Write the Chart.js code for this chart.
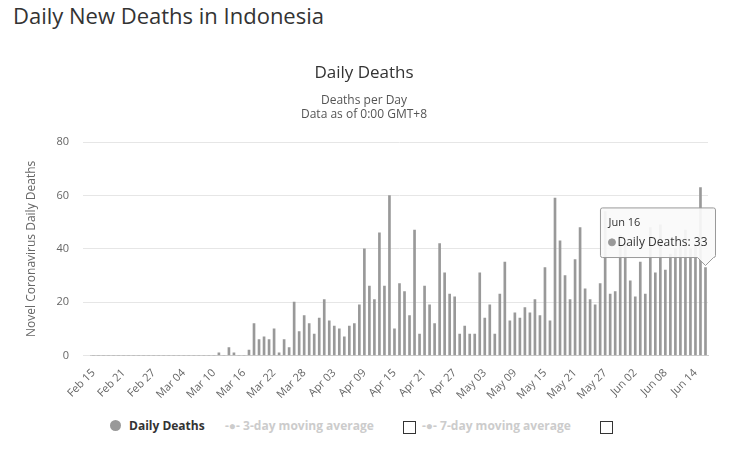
<!DOCTYPE html>
<html>
<head>
<meta charset="utf-8">
<script src="https://cdn.jsdelivr.net/npm/chart.js@4"></script>
<style>
  body { margin: 0; width: 734px; height: 449px; background: #fff; font-family: "Open Sans", sans-serif; overflow: hidden; }
  h1 { position: absolute; left: 13px; top: 0; margin: 0; font-weight: normal; font-size: 22px; color: #333; }
  #wrap { position: absolute; left: 0; top: 55px; width: 734px; height: 350px; }
  #legend { position: absolute; top: 417px; left: 110px; font-size: 12px; font-weight: bold; color: #333; }
  #legend span { position: absolute; white-space: nowrap; }
  .box { display: inline-block; width: 11px; height: 11px; border: 1px solid #333; }
</style>
</head>
<body>
<h1>Daily New Deaths in Indonesia</h1>
<div id="wrap"><canvas id="deathsChart"></canvas></div>
<div id="legend">
  <span style="left:0"><span style="position:relative;display:inline-block;width:11px;height:11px;border-radius:50%;background:#999;top:1px;margin-right:8px"></span>Daily Deaths</span>
  <span style="left:115px;color:#ccc">-●- 3-day moving average</span>
  <span style="left:293px;top:4px" class="box"></span>
  <span style="left:312px;color:#ccc">-●- 7-day moving average</span>
  <span style="left:490px;top:4px" class="box"></span>
</div>
<script>
const monthNames = ['Feb', 'Mar', 'Apr', 'May', 'Jun'];
const monthDays = [29, 31, 30, 31, 30];

// valeurs, 15 fév -> 16 juin
const dailyDeaths = [
  0, 0, 0, 0, 0, 0, 0, 0, 0, 0, 0, 0, 0, 0, 0, 0, 0, 0, 0, 0,
  0, 0, 0, 0, 0, 1, 0, 3, 1, 0, 0, 2, 12, 6, 7, 6, 10, 1, 6, 3,
  20, 9, 15, 12, 8, 14, 21, 13, 11, 10, 7, 11, 12, 19, 40, 26, 21, 46, 26, 60,
  10, 27, 24, 15, 47, 8, 26, 19, 12, 42, 31, 23, 22, 8, 11, 8, 8, 31, 14, 19,
  8, 23, 35, 13, 16, 14, 18, 16, 21, 15, 33, 13, 59, 43, 30, 21, 36, 48, 25, 21,
  19, 27, 54, 23, 24, 45, 42, 28, 22, 35, 23, 48, 31, 49, 32, 38, 40, 42, 47, 40,
  42, 63, 33
];

const dateLabels = [];
let m = 0, d = 15;
for (let i = 0; i < dailyDeaths.length; i++) {
  dateLabels.push(monthNames[m] + ' ' + String(d).padStart(2, '0'));
  d++;
  if (d > monthDays[m]) { d = 1; m++; }
}

const yTicks = [0, 20, 40, 60, 80];

const ctx = document.getElementById('deathsChart').getContext('2d');
const deathsChart = new Chart(ctx, {
  type: 'bar',
  data: {
    labels: dateLabels,
    datasets: [{
      label: 'Daily Deaths',
      data: dailyDeaths,
      backgroundColor: '#999999',
      barThickness: 2
    }]
  },
  options: {
    responsive: true,
    maintainAspectRatio: false,
    animation: false,
    layout: { padding: { left: 20, right: 26, top: 0, bottom: 0 } },
    plugins: {
      legend: { display: false },
      title: {
        display: true,
        text: 'Daily Deaths',
        color: '#333',
        font: { family: 'Open Sans', size: 17, weight: 'normal' },
        padding: { top: 8, bottom: 10 }
      },
      subtitle: {
        display: true,
        text: ['Deaths per Day', 'Data as of 0:00 GMT+8'],
        color: '#555',
        font: { family: 'Open Sans', size: 12 },
        padding: { bottom: 20 }
      },
      tooltip: {
        enabled: true,
        backgroundColor: 'rgba(250,250,250,0.92)',
        borderColor: '#999',
        borderWidth: 1,
        titleColor: '#333',
        bodyColor: '#333',
        titleFont: { family: 'Open Sans', size: 11, weight: 'normal' },
        bodyFont: { family: 'Open Sans', size: 12 },
        cornerRadius: 2,
        caretSize: 8,
        xAlign: 'right',
        yAlign: 'bottom',
        padding: 8,
        boxWidth: 7,
        boxHeight: 7,
        usePointStyle: true,
        callbacks: {
          labelColor: () => ({ borderColor: '#999', backgroundColor: '#999' }),
          labelPointStyle: () => ({ pointStyle: 'circle', rotation: 0 })
        }
      }
    },
    scales: {
      x: {
        grid: { display: false },
        border: { color: '#ccc' },
        ticks: {
          autoSkip: false,
          maxRotation: 45,
          minRotation: 45,
          color: '#666',
          font: { family: 'Open Sans', size: 11 },
          callback: function(val, i) { return i % 6 === 0 ? dateLabels[i] : null; }
        }
      },
      y: {
        min: 0,
        max: 80,
        afterBuildTicks: axis => { axis.ticks = yTicks.map(v => ({ value: v })); },
        grid: { color: '#e6e6e6' },
        border: { display: false },
        ticks: { color: '#666', font: { family: 'Open Sans', size: 11 }, padding: 14 },
        title: {
          display: true,
          text: 'Novel Coronavirus Daily Deaths',
          color: '#666',
          font: { family: 'Open Sans', size: 12 }
        }
      }
    }
  }
});

// afficher l'infobulle du dernier jour
const last = dailyDeaths.length - 1;
const el = deathsChart.getDatasetMeta(0).data[last];
deathsChart.tooltip.setActiveElements([{ datasetIndex: 0, index: last }], { x: el.x, y: el.y });
deathsChart.update();
</script>
</body>
</html>
